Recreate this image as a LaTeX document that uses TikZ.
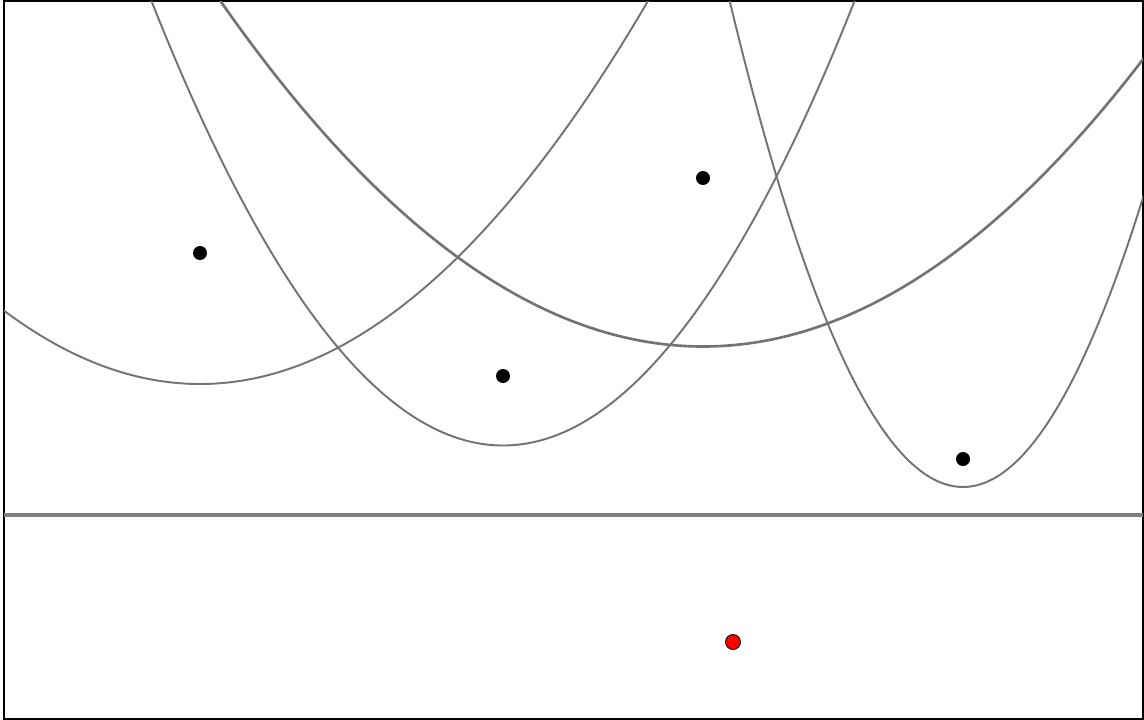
\documentclass[tikz,border=0pt]{standalone}
\usepackage{tikz}
\usetikzlibrary{calc}

\tikzset{
  curve/.style={draw=black!55, line width=1.1pt},
  focus/.style={circle, fill=black, inner sep=0pt, minimum size=0.28cm},
  redpt/.style={circle, fill=red, draw=black, line width=0.5pt, inner sep=0pt, minimum size=0.30cm}
}

\begin{document}
\begin{tikzpicture}[x=2cm, y=-2cm]

    % 1 unit = 100 px, directrix at y = 5.15
    \useasboundingbox (0,0) rectangle (11.44,7.20);
    \draw[black, line width=0.8pt] (0.04,0.01) rectangle (11.43,7.19);

    % foci
    \coordinate (F1) at (2.00,2.53);
    \coordinate (F2) at (5.03,3.76);
    \coordinate (F3) at (7.03,1.78);
    \coordinate (F4) at (9.63,4.59);

    % parabolas with common directrix
    \begin{scope}
        \clip (0.04,0.01) rectangle (11.43,7.19);
        \draw[curve] plot[domain=0:11.44, samples=200] (\x, {(5.15+2.53)/2 - (\x-2.00)^2/(2*(5.15-2.53))});
        \draw[curve] plot[domain=0:11.44, samples=200] (\x, {(5.15+3.76)/2 - (\x-5.03)^2/(2*(5.15-3.76))});
        \draw[curve, line width=1.5pt] plot[domain=0:11.44, samples=200] (\x, {(5.15+1.78)/2 - (\x-7.03)^2/(2*(5.15-1.78))});
        \draw[curve] plot[domain=0:11.44, samples=200] (\x, {(5.15+4.59)/2 - (\x-9.63)^2/(2*(5.15-4.59))});
    \end{scope}

    % directrix
    \coordinate (dL) at (0.04,5.15);
    \coordinate (dR) at (11.43,5.15);
    \draw[draw=black!50, line width=2pt] (dL) -- (dR);

    \node[focus] (P1) at (F1) {};
    \node[focus] (P2) at (F2) {};
    \node[focus] (P3) at (F3) {};
    \node[focus] (P4) at (F4) {};
    \node[redpt] (Q) at (7.33,6.42) {};

\end{tikzpicture}
\end{document}
